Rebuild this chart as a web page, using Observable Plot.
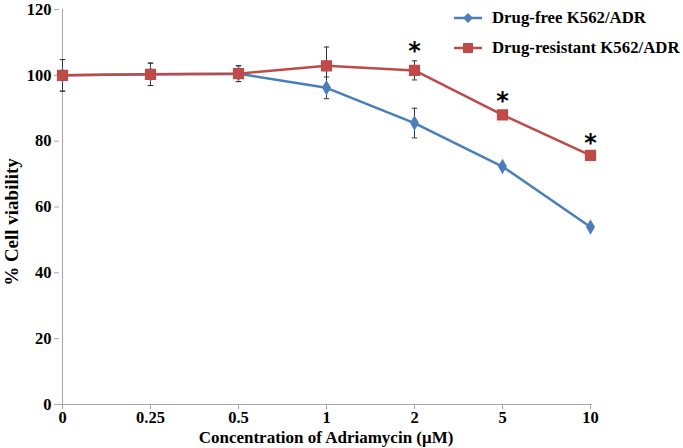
<!DOCTYPE html>
<html>
<head>
<meta charset="utf-8">
<script src="https://cdn.jsdelivr.net/npm/d3@7"></script>
<script src="https://cdn.jsdelivr.net/npm/@observablehq/plot@0.6"></script>
<style>
  html, body { margin: 0; padding: 0; background: #fff; }
  #wrap { position: relative; width: 683px; height: 448px; font-family: "Liberation Serif", "Times New Roman", serif; }
  #legend { position: absolute; left: 452px; top: 7px; font-weight: bold; font-size: 16.8px; color: #000; }
  .row { display: flex; align-items: center; height: 22px; margin-bottom: 8px; }
  .row svg { margin-right: 8px; }
  #ytitle { position: absolute; left: 11px; top: 222px; transform: translate(-50%, -50%) rotate(-90deg);
            white-space: nowrap; font-weight: bold; font-size: 19px; color: #000; line-height: 1; }
</style>
</head>
<body>
<div id="wrap"><div id="legend"></div><div id="ytitle"></div></div>
<script>
const categories = ["0", "0.25", "0.5", "1", "2", "5", "10"];
const freeMean = [100, 100.3, 100.5, 96.2, 85.5, 72.3, 53.9];
const freeErr  = [4.8, 3.4, 2.4, 3.3, 4.5, 0.6, 0.5];
const resMean  = [100, 100.3, 100.5, 102.9, 101.5, 88.0, 75.7];
const resErr   = [4.8, 3.4, 2.4, 5.7, 2.9, 1.0, 0.6];
const sigMarks = ["", "", "", "", "*", "*", "*"];
const seriesNames = ["Drug-free K562/ADR", "Drug-resistant K562/ADR"];
const yTicks = [0, 20, 40, 60, 80, 100, 120];
const xTitle = "Concentration of Adriamycin (μM)";
const yTitle = "% Cell viability";

const blue = "#4a7ebb", red = "#be4b48";

const free = categories.map((c, i) => ({x: c, y: freeMean[i], e: freeErr[i]}));
const res = categories.map((c, i) => ({x: c, y: resMean[i], e: resErr[i], s: sigMarks[i]}));

const capSymbol = {
  draw(ctx, size) {
    const w = Math.sqrt(size) / 2;
    ctx.moveTo(-w, 0);
    ctx.lineTo(w, 0);
  }
};

const errMarks = (data) => [
  Plot.ruleX(data, {x: "x", y1: d => d.y - d.e, y2: d => d.y + d.e, stroke: "#333", strokeWidth: 1}),
  Plot.dot(data, {x: "x", y: d => d.y + d.e, symbol: capSymbol, r: 3, stroke: "#333", strokeWidth: 1, fill: "none"}),
  Plot.dot(data, {x: "x", y: d => d.y - d.e, symbol: capSymbol, r: 3, stroke: "#333", strokeWidth: 1, fill: "none"})
];

const font = "'Liberation Serif', 'Times New Roman', serif";

const chart = Plot.plot({
  width: 683,
  height: 448,
  marginLeft: 59,
  marginRight: 91,
  marginTop: 9,
  marginBottom: 44,
  style: {fontFamily: font, fontWeight: "bold", fontSize: "16.5px", color: "#000", background: "#fff"},
  x: {type: "point", domain: categories, padding: 0},
  y: {domain: [0, 120]},
  marks: [
    Plot.ruleX([categories[0]], {y1: 0, y2: 120, stroke: "#a6a6a6"}),
    Plot.ruleY([0], {stroke: "#a6a6a6"}),
    Plot.axisY({ticks: yTicks, tickSize: 5, tickPadding: 3, stroke: "#a6a6a6", fill: "#000", fontSize: 16.5, label: null}),
    Plot.axisX({tickSize: 5, tickPadding: 2, stroke: "#a6a6a6", fill: "#000", fontSize: 16.5, label: null}),
    Plot.text([xTitle], {frameAnchor: "bottom", dy: 38, fontSize: 17, fontWeight: "bold", fill: "#000", fontFamily: font}),
    ...errMarks(free),
    ...errMarks(res),
    Plot.line(free, {x: "x", y: "y", stroke: blue, strokeWidth: 2.5}),
    Plot.dot(free, {x: "x", y: "y", symbol: "diamond", r: 3.8, fill: blue, stroke: blue}),
    Plot.line(res, {x: "x", y: "y", stroke: red, strokeWidth: 2.5}),
    Plot.dot(res, {x: "x", y: "y", symbol: "square", r: 5.5, fill: red, stroke: red}),
    Plot.text(res, {x: "x", y: d => d.y + d.e, text: "s", dy: -10, fontSize: 24, fontWeight: "bold", fill: "#000", fontFamily: "'DejaVu Sans', sans-serif"})
  ]
});

const wrap = document.getElementById("wrap");
wrap.insertBefore(chart, wrap.firstChild);
document.getElementById("ytitle").textContent = yTitle;

const legend = document.getElementById("legend");
const colors = [blue, red];
const syms = ["diamond", "square"];
seriesNames.forEach((name, i) => {
  const row = document.createElement("div");
  row.className = "row";
  const s = d3.create("svg").attr("width", 32).attr("height", 16);
  s.append("line").attr("x1", 2).attr("x2", 30).attr("y1", 8).attr("y2", 8).attr("stroke", colors[i]).attr("stroke-width", 2.5);
  if (syms[i] === "diamond") {
    s.append("path").attr("d", "M16,3L21,8L16,13L11,8Z").attr("fill", colors[i]);
  } else {
    s.append("rect").attr("x", 11).attr("y", 3).attr("width", 10).attr("height", 10).attr("fill", colors[i]);
  }
  row.appendChild(s.node());
  const t = document.createElement("span");
  t.textContent = name;
  row.appendChild(t);
  legend.appendChild(row);
});
</script>
</body>
</html>
